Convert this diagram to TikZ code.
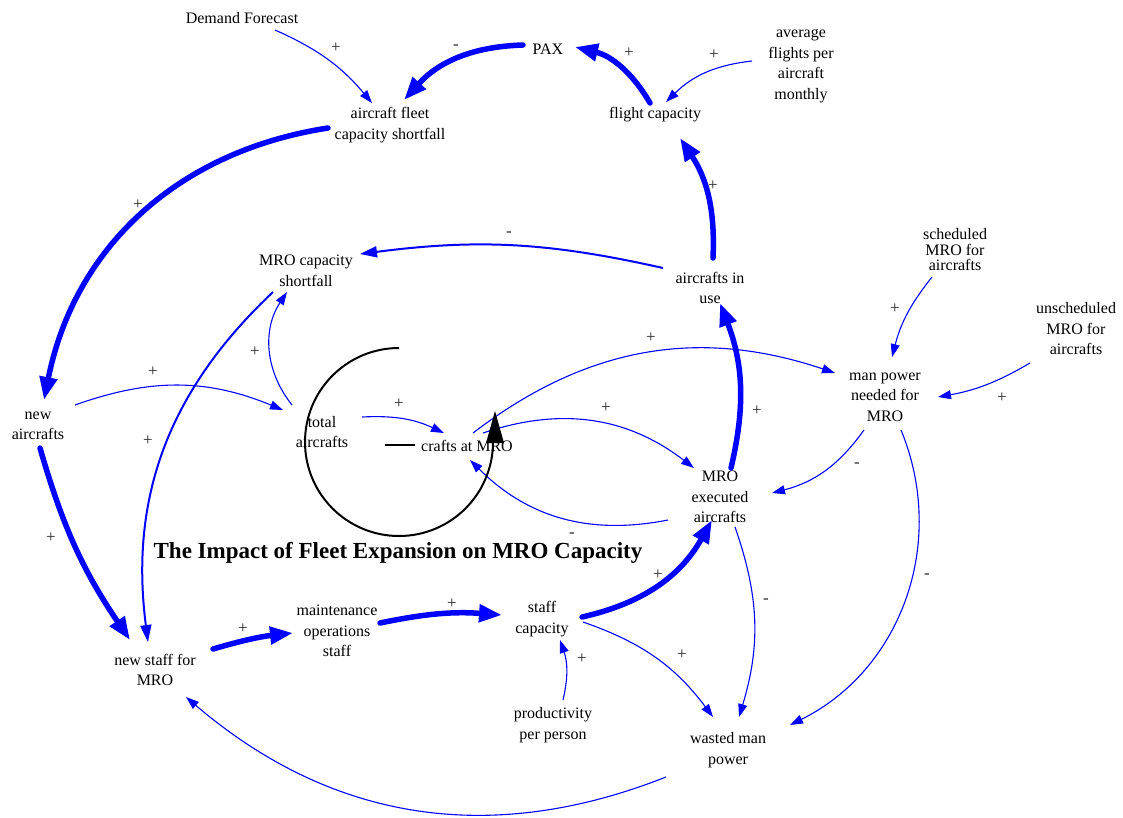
\documentclass[tikz,border=0pt]{standalone}
\usepackage{fontspec}
\setmainfont{Liberation Serif}
\usetikzlibrary{arrows.meta}

\begin{document}
\begin{tikzpicture}[x=1pt,y=1pt,
  var/.style={align=center, inner sep=0pt, text=black, font=\fontsize{16}{20.5}\selectfont},
  sign/.style={inner sep=0pt, text=black!85, font=\fontsize{17}{17}\selectfont},
  link/.style={draw=blue, line width=1.1pt, -{Triangle[length=13pt,width=9pt]}},
  midlink/.style={draw=blue, line width=2pt, -{Triangle[length=17pt,width=11pt]}},
  boldlink/.style={draw=blue, line width=5.5pt, line cap=round, -{Triangle[length=23pt,width=17pt]}},
  loopline/.style={draw=black, line width=2pt},
]
% canvas
\fill[white] (0,0) rectangle (1123,-817);
\useasboundingbox (0,0) rectangle (1123,-817);

% variables
\node[var] (demand)   at (242,-18)  {Demand Forecast};
\node[var] (pax)      at (548,-49)  {PAX};
\node[var] (fleet)    at (390,-125) {aircraft fleet\\capacity shortfall};
\node[var] (flight)   at (655,-115) {flight capacity};
\node[var] (avgfl)    at (801,-66)  {average\\flights per\\aircraft\\monthly};
\node[var] (mrocap)   at (306,-271) {MRO capacity\\shortfall};
\node[var] (inuse)    at (710,-288) {aircrafts in\\use};
\node[var, font=\fontsize{16}{15.5}\selectfont] (sched) at (955,-250) {scheduled\\MRO for\\aircrafts};
\node[var] (unsched)  at (1076,-329) {unscheduled\\MRO for\\aircrafts};
\node[var] (manpow)   at (885,-397) {man power\\needed for\\MRO};
\node[var] (newac)    at (38,-426)  {new\\aircrafts};
\node[var] (total)    at (322,-432) {total\\aircrafts};
\node[var] (atmro)    at (467,-446) {crafts at MRO};
\node[var] (exec)     at (720,-497) {MRO\\executed\\aircrafts};
\node[var] (staffcap) at (542,-619) {staff\\capacity};
\node[var] (maintops) at (337,-631) {maintenance\\operations\\staff};
\node[var] (newstaff) at (155,-670) {new staff for\\MRO};
\node[var] (prod)     at (553,-725) {productivity\\per person};
\node[var] (wasted)   at (728,-750) {wasted man\\power};
\node[font=\fontsize{23}{28}\selectfont\bfseries] (title) at (398,-553)
  {The Impact of Fleet Expansion on MRO Capacity};

% causal links
\draw[link]     ([shift={(33,-12)}]demand.center)   to[bend left=13]  ([shift={(-18,22)}]fleet.center);
\draw[boldlink] ([shift={(-25,4)}]pax.center)       to[bend right=23] ([shift={(14,25)}]fleet.center);
\draw[boldlink] ([shift={(-5,12)}]flight.center)    to[bend right=23] ([shift={(27,2)}]pax.center);
\draw[link]     ([shift={(-49,5)}]avgfl.center)     to[bend right=19] ([shift={(11,13)}]flight.center);
\draw[boldlink] ([shift={(3,30)}]inuse.center)      to[bend right=18] ([shift={(25,-23)}]flight.center);
\draw[boldlink] ([shift={(-62,-3)}]fleet.center)    to[bend right=35] ([shift={(6,26)}]newac.center);
\draw[midlink]  ([shift={(-47,20)}]inuse.center)    to[bend right=10] ([shift={(54,17)}]mrocap.center);
\draw[midlink]  ([shift={(-33,-21)}]mrocap.center)  to[bend right=27] ([shift={(-7,28)}]newstaff.center);
\draw[link]     ([shift={(-30,27)}]total.center)    to[bend left=36]  ([shift={(-19,-21)}]mrocap.center);
\draw[link]     ([shift={(37,21)}]newac.center)     to[bend left=21]  ([shift={(-39,22)}]total.center);
\draw[boldlink] ([shift={(2,-22)}]newac.center)     to[bend right=9]  ([shift={(-25,30)}]newstaff.center);
\draw[link]     ([shift={(40,15)}]total.center)     to[bend left=14]  ([shift={(-23,13)}]atmro.center);
\draw[link]     ([shift={(6,13)}]atmro.center)      to[bend left=28]  ([shift={(-50,24)}]manpow.center);
\draw[link]     ([shift={(16,13)}]atmro.center)     to[bend left=28]  ([shift={(-26,29)}]exec.center);
\draw[link]     ([shift={(-52,-23)}]exec.center)    to[bend left=28]  ([shift={(3,-14)}]atmro.center);
\draw[boldlink] ([shift={(11,29)}]exec.center)      to[bend right=17] ([shift={(10,-15)}]inuse.center);
\draw[link]     ([shift={(-21,-33)}]manpow.center)  to[bend left=20]  ([shift={(52,4)}]exec.center);
\draw[link]     ([shift={(16,-33)}]manpow.center)   to[bend left=43]  ([shift={(62,25)}]wasted.center);
\draw[link]     ([shift={(-23,-27)}]sched.center)   to[bend right=12] ([shift={(7,40)}]manpow.center);
\draw[link]     ([shift={(-46,-34)}]unsched.center) to[bend left=10]  ([shift={(53,0)}]manpow.center);
\draw[link]     ([shift={(15,-30)}]exec.center)     to[bend left=18]  ([shift={(11,33)}]wasted.center);
\draw[boldlink] ([shift={(40,2)}]staffcap.center)   to[bend right=24] ([shift={(-8,-23)}]exec.center);
\draw[link]     ([shift={(41,-3)}]staffcap.center)  to[bend left=17]  ([shift={(-15,33)}]wasted.center);
\draw[link]     ([shift={(10,25)}]prod.center)      to[bend right=16] ([shift={(18,-21)}]staffcap.center);
\draw[boldlink] ([shift={(43,8)}]maintops.center)   to[bend left=8]   ([shift={(-40,4)}]staffcap.center);
\draw[boldlink] ([shift={(58,21)}]newstaff.center)  to[bend left=5]   ([shift={(-44,-2)}]maintops.center);
\draw[link]     ([shift={(-62,-27)}]wasted.center)  to[bend left=31]  ([shift={(31,-27)}]newstaff.center);

% polarity signs
\node[sign] at (336,-48)  {+};
\node[sign] at (456,-47)  {-};
\node[sign] at (629,-53)  {+};
\node[sign] at (714,-55)  {+};
\node[sign] at (713,-186) {+};
\node[sign] at (138,-205) {+};
\node[sign] at (509,-234) {-};
\node[sign] at (148,-441) {+};
\node[sign] at (255,-352) {+};
\node[sign] at (153,-372) {+};
\node[sign] at (51,-538)  {+};
\node[sign] at (399,-404) {+};
\node[sign] at (651,-338) {+};
\node[sign] at (606,-408) {+};
\node[sign] at (572,-535) {-};
\node[sign] at (757,-411) {+};
\node[sign] at (857,-465) {-};
\node[sign] at (927,-576) {-};
\node[sign] at (895,-309) {+};
\node[sign] at (1002,-398) {+};
\node[sign] at (766,-601) {-};
\node[sign] at (658,-575) {+};
\node[sign] at (682,-655) {+};
\node[sign] at (582,-659) {+};
\node[sign] at (452,-604) {+};
\node[sign] at (243,-629) {+};

% loop marker
\draw[loopline] (399,-348) arc[start angle=90, end angle=360, radius=94];
\fill[black] (486,-443) -- (495,-411) -- (504,-443) -- cycle;
\draw[black, line width=2.5pt] (385,-445) -- (415,-445);
\end{tikzpicture}
\end{document}
